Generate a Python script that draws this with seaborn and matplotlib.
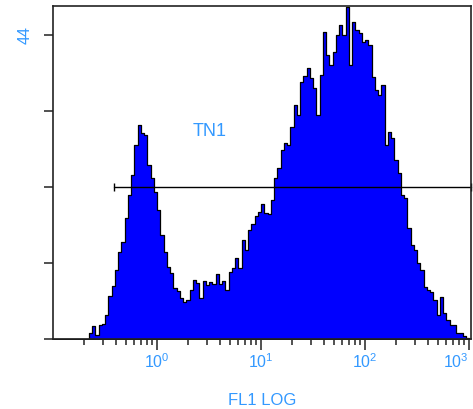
import matplotlib.pyplot as plt
import seaborn as sns
import numpy as np

# FL1 histogram, 128 log channels over 4 decades (0.1 .. 1000)
n_channels = 128
log_range = (-1, 3)
first_channel = 11
counts = [
    0.9, 1.9, 0.6, 2.0, 2.2, 3.5, 6.2, 7.7, 10.0, 12.6,
    14.0, 17.5, 20.8, 23.7, 28.1, 31.0, 29.8, 29.5, 25.2, 23.3,
    21.3, 18.7, 15.0, 12.6, 10.4, 9.5, 7.4, 6.9, 5.9, 5.4,
    5.6, 7.1, 8.5, 8.1, 5.9, 8.4, 7.8, 8.2, 8.0, 9.4,
    8.0, 8.4, 7.1, 9.7, 10.3, 11.7, 10.3, 14.3, 12.9, 15.8,
    16.6, 17.8, 18.4, 19.5, 18.2, 18.1, 20.1, 23.3, 24.7, 27.3,
    28.4, 28.1, 30.7, 33.9, 32.4, 37.2, 38.1, 39.2, 37.8, 36.3,
    32.4, 38.2, 44.4, 41.1, 39.6, 41.5, 44.0, 45.4, 44.0, 48.0,
    39.6, 45.9, 44.7, 44.3, 43.0, 43.3, 42.5, 37.9, 36.0, 35.3,
    36.8, 28.1, 30.0, 29.1, 25.9, 24.0, 20.8, 20.4, 16.1, 13.6,
    12.9, 11.0, 10.0, 7.5, 7.1, 6.8, 5.6, 3.5, 6.1, 3.8,
    2.7, 2.0, 2.0, 0.9, 0.9, 0.4, 0.1,
]
channels = np.arange(first_channel, first_channel + len(counts))
fl1 = 10 ** (log_range[0] + (channels + 0.5) * (log_range[1] - log_range[0]) / n_channels)

gate_x = [0.386, 1045]
gate_y = 22
label_blue = "#3399ff"

sns.set_style("ticks")
plt.rcParams["font.family"] = ["Liberation Sans", "DejaVu Sans"]
plt.rcParams["mathtext.fontset"] = "custom"
plt.rcParams["mathtext.rm"] = "Liberation Sans"
plt.rcParams["mathtext.default"] = "regular"

fig = plt.figure(figsize=(4.73, 4.09), dpi=100)
ax = fig.add_axes([53 / 473, 70 / 409, 418 / 473, 333 / 409])

sns.histplot(
    x=fl1,
    weights=counts,
    bins=n_channels,
    binrange=log_range,
    log_scale=True,
    element="step",
    fill=True,
    color="#0000ff",
    edgecolor="black",
    linewidth=0.9,
    alpha=1,
    ax=ax,
)

# gate marker
ax.plot(gate_x, [gate_y, gate_y], color="black", lw=1, marker="|", ms=6, clip_on=False)
ax.text(3.2, 30, "TN1", color=label_blue, fontsize=13, ha="center", va="center")

ax.set_xlim(0.1, 1045)
ax.set_ylim(0, 48.2)

ax.set_xticks([1, 10, 100, 1000])
ax.set_xticklabels([r"$10^{0}$", r"$10^{1}$", r"$10^{2}$", r"$10^{3}$"])
ax.get_xticklabels()[-1].set_ha("right")
ax.set_yticks([0, 11, 22, 33, 44])
ax.set_yticklabels(["", "", "", "", "44"], rotation=90, va="center")

ax.tick_params(axis="x", which="major", length=8, width=1.2, pad=1.5,
               color="#333333", labelcolor=label_blue, labelsize=11.5)
ax.tick_params(axis="x", which="minor", length=4.3, width=1.2, color="#333333")
ax.tick_params(axis="y", length=6.5, width=1.2, pad=8,
               color="#333333", labelcolor=label_blue, labelsize=11.5)

for spine in ax.spines.values():
    spine.set_color("#222222")
    spine.set_linewidth(1.2)

ax.set_ylabel("")
ax.set_xlabel("FL1 LOG", color=label_blue, fontsize=12)
ax.xaxis.set_label_coords(0.5, -0.162)

fig.savefig("out.png", dpi=100)
